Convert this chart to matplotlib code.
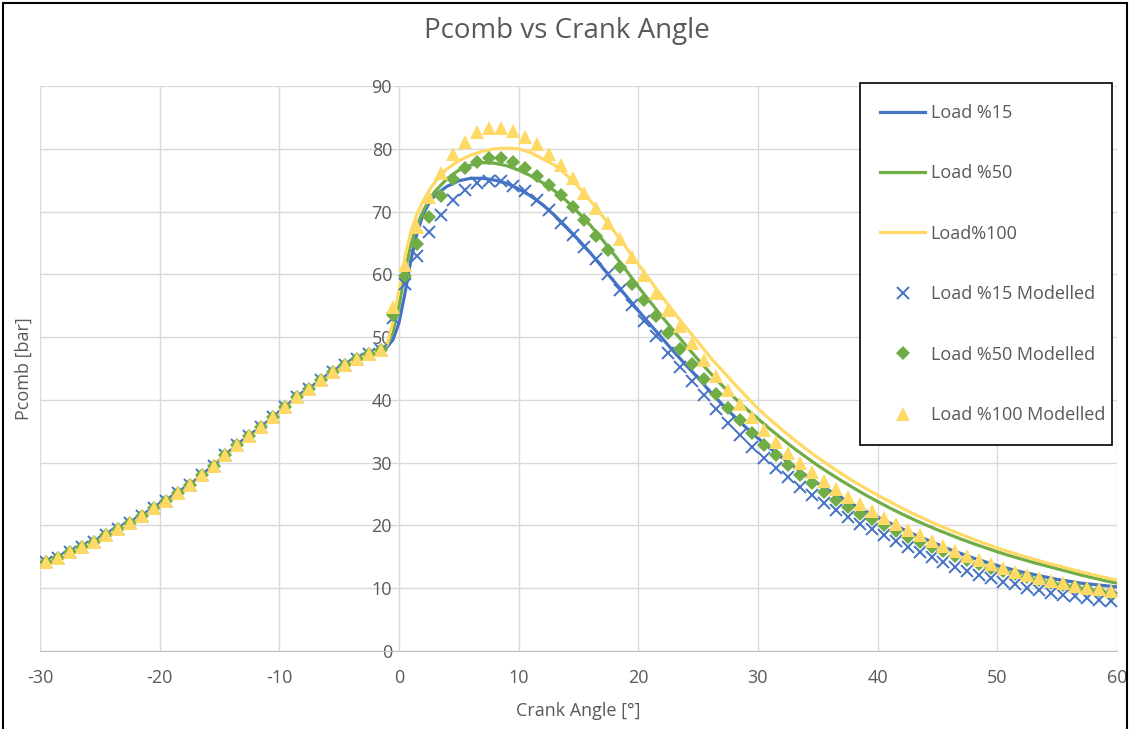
import numpy as np
import matplotlib
matplotlib.use("Agg")
import matplotlib.pyplot as plt
from matplotlib.patches import Rectangle

plt.rcParams['font.family'] = ['Open Sans', 'DejaVu Sans']
plt.rcParams['axes.unicode_minus'] = False

# measured curves (1 deg steps, half steps around TDC)
line_angle = list(range(-30, -1)) + [-1, -0.5, 0, 0.5, 1, 1.5, 2, 2.5, 3] + list(range(4, 61))
compression_line = [13.9, 14.5, 15.25, 16.15, 17.0, 17.9, 18.9, 19.9, 20.95, 22.1,
                    23.3, 24.55, 25.85, 27.25, 28.75, 30.4, 32.0, 33.55, 35.0, 36.5,
                    38.1, 39.65, 41.1, 42.5, 43.85, 45.05, 46.05, 46.9, 47.6]
load15_line = [48.4, 49.6, 52.3, 57.0, 62.3, 66.5, 69.5, 71.3, 72.6,
               74.0, 74.9, 75.3, 75.3, 75.0,
               74.5, 73.6, 72.5, 71.1, 69.4, 67.5, 65.5, 63.4, 61.1, 58.8,
               56.5, 54.2, 52.0, 49.8, 47.6, 45.5, 43.5, 41.3, 39.3, 37.4,
               35.6, 33.9, 32.3, 30.8, 29.4, 28.0, 26.7, 25.5, 24.4, 23.3,
               22.3, 21.3, 20.4, 19.5, 18.6, 17.8, 17.0, 16.2, 15.5, 14.8,
               14.2, 13.6, 13.1, 12.6, 12.2, 11.8, 11.4, 11.1, 10.8, 10.6,
               10.4, 10.2]
load50_line = [48.6, 51.0, 55.0, 60.5, 64.8, 67.8, 70.0, 71.8, 73.2,
               75.2, 76.6, 77.4, 77.8, 77.7,
               77.3, 76.6, 75.7, 74.6, 73.3, 71.7, 69.8, 67.8, 65.5, 63.1,
               60.6, 58.0, 55.6, 53.2, 50.9, 48.6, 46.4, 44.3, 42.3, 40.4,
               38.6, 37.0, 35.35, 33.8, 32.3, 30.9, 29.55, 28.3, 27.1, 25.95,
               24.85, 23.8, 22.8, 21.85, 20.95, 20.1, 19.3, 18.55, 17.8, 17.1,
               16.45, 15.8, 15.2, 14.65, 14.1, 13.6, 13.1, 12.6, 12.1, 11.65,
               11.2, 10.8]
load100_line = [48.8, 52.5, 57.5, 62.8, 66.8, 69.6, 71.6, 73.3, 74.7,
                76.8, 78.1, 79.0, 79.6, 80.0,
                80.1, 80.0, 79.4, 78.4, 77.4, 75.8, 73.9, 71.7, 69.3, 66.8,
                64.2, 61.6, 59.0, 56.4, 53.9, 51.5, 49.2, 46.8, 44.7, 42.6,
                40.6, 38.6, 36.9, 35.25, 33.7, 32.2, 30.8, 29.5, 28.2, 27.0,
                25.9, 24.8, 23.8, 22.8, 21.85, 20.95, 20.1, 19.3, 18.55, 17.8,
                17.1, 16.4, 15.8, 15.2, 14.65, 14.1, 13.6, 13.1, 12.6, 12.15,
                11.7, 11.3]

# modelled points, every 1 deg from -29.5
model_angle = [a + 0.5 for a in range(-30, 60)]
compression_model = [14.2, 14.8, 15.7, 16.6, 17.4, 18.4, 19.4, 20.4, 21.5, 22.7,
                     23.9, 25.2, 26.5, 28.0, 29.5, 31.3, 32.8, 34.3, 35.7, 37.3,
                     38.9, 40.4, 41.8, 43.2, 44.5, 45.6, 46.5, 47.3, 47.9]
load15_model = [53.0, 58.5, 63.0, 66.8, 69.4, 71.8, 73.4, 74.5, 74.8, 74.8,
                74.1, 73.2, 71.9, 70.2, 68.1, 66.3, 64.3, 62.4, 60.1, 57.5,
                55.1, 52.5, 50.1, 47.5, 45.2, 43.0, 40.8, 38.6, 36.3, 34.4,
                32.5, 30.8, 29.1, 27.7, 26.2, 24.8, 23.6, 22.5, 21.4, 20.3,
                19.4, 18.5, 17.5, 16.5, 15.7, 14.9, 14.1, 13.4, 12.7, 12.1,
                11.6, 11.0, 10.6, 10.1, 9.7, 9.3, 9.0, 8.7, 8.5, 8.2, 8.0]
load50_model = [53.6, 59.8, 64.9, 69.2, 72.5, 75.2, 76.9, 77.9, 78.5, 78.5,
                77.9, 77.0, 75.7, 74.2, 72.6, 70.7, 68.6, 66.1, 63.9, 61.2,
                58.5, 55.9, 53.4, 50.7, 48.1, 45.7, 43.3, 41.0, 38.7, 36.8,
                34.7, 32.8, 31.2, 29.6, 28.1, 26.7, 25.3, 24.1, 22.9, 21.9,
                21.0, 20.0, 19.1, 18.2, 17.4, 16.6, 15.9, 15.2, 14.5, 13.9,
                13.3, 12.8, 12.2, 11.8, 11.3, 10.9, 10.5, 10.2, 9.9, 9.6, 9.3]
load100_model = [54.8, 61.5, 67.6, 72.3, 76.2, 79.2, 81.1, 82.6, 83.3, 83.3,
                 82.8, 81.9, 80.7, 79.1, 77.4, 75.3, 73.0, 70.6, 68.1, 65.6,
                 62.8, 59.9, 57.1, 54.3, 51.7, 49.0, 46.4, 43.8, 41.6, 39.3,
                 37.2, 35.2, 33.3, 31.6, 30.0, 28.5, 27.1, 25.8, 24.6, 23.4,
                 22.3, 21.2, 20.2, 19.3, 18.4, 17.5, 16.7, 15.9, 15.2, 14.5,
                 13.8, 13.3, 12.6, 12.1, 11.7, 11.2, 10.8, 10.4, 10.1, 9.8, 9.5]

blue = '#4472C4'
green = '#70AD47'
yellow = '#FFD966'
grey = '#595959'

fig = plt.figure(figsize=(11.3, 7.29), dpi=100)
ax = fig.add_axes([40 / 1130, 78 / 729, 1077 / 1130, 565 / 729])

ax.plot(line_angle, compression_line + load15_line, color=blue, lw=2.3, label='Load %15', zorder=3)
ax.plot(line_angle, compression_line + load50_line, color=green, lw=2.3, label='Load %50', zorder=3)
ax.plot(line_angle, compression_line + load100_line, color=yellow, lw=2.3, label='Load%100', zorder=3)
ax.plot(model_angle, compression_model + load15_model, ls='none', marker='x', ms=8.5, mew=1.4,
        color=blue, label='Load %15 Modelled', zorder=4)
ax.plot(model_angle, compression_model + load50_model, ls='none', marker='D', ms=7, mew=0,
        color=green, label='Load %50 Modelled', zorder=4)
ax.plot(model_angle, compression_model + load100_model, ls='none', marker='^', ms=10, mew=0,
        color=yellow, label='Load %100 Modelled', zorder=4)

ax.set_xlim(-30, 60)
ax.set_ylim(0, 90)
ax.set_xticks(range(-30, 61, 10))
ax.set_yticks(range(0, 91, 10))
ax.grid(True, color='#D9D9D9', lw=1)
ax.set_axisbelow(True)

for s in ['top', 'right']:
    ax.spines[s].set_visible(False)
ax.spines['left'].set_position(('data', 0))
ax.spines['left'].set_visible(False)
ax.spines['bottom'].set_color('#BFBFBF')
ax.tick_params(axis='both', length=0, colors=grey, labelsize=13)
ax.tick_params(axis='x', pad=13)
ax.tick_params(axis='y', pad=5)

ax.set_xlabel('Crank Angle [°]', fontsize=13, color=grey, labelpad=11)
ax.set_ylabel('Pcomb [bar]', fontsize=13, color=grey)
ax.yaxis.set_label_coords(-0.007, 0.5)

fig.text(0.502, 0.957, 'Pcomb vs Crank Angle', ha='center', va='center', fontsize=20, color=grey)

leg = ax.legend(loc='upper left', bbox_to_anchor=(0.761, 0.363, 0.234, 0.642), mode='expand',
                borderaxespad=0, fontsize=13, labelspacing=2.35, handlelength=2.5,
                handletextpad=0.28, borderpad=1.15, fancybox=False, framealpha=1,
                edgecolor='black')
leg.get_frame().set_linewidth(1.2)
for t in leg.get_texts():
    t.set_color(grey)

fig.patches.append(Rectangle((3 / 1130, -0.1), 1124 / 1130, 1.1 - 3 / 729, transform=fig.transFigure,
                             fill=False, edgecolor='black', lw=1.5))

fig.savefig('out.png', dpi=100)
